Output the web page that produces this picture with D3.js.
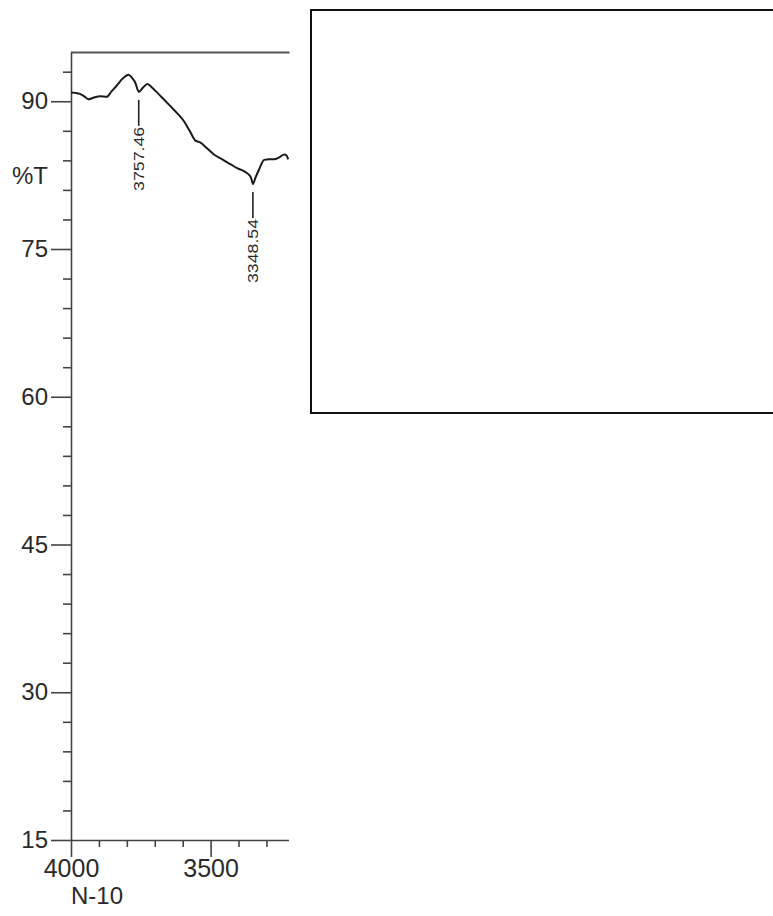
<!DOCTYPE html>
<html>
<head>
<meta charset="utf-8">
<script src="https://cdn.jsdelivr.net/npm/d3@7"></script>
<style>
  body { margin: 0; background: #fff; }
  text { font-family: "Liberation Sans", Arial, sans-serif; fill: #2a2a2a; }
</style>
</head>
<body>
<svg id="chart" width="773" height="916"></svg>
<script>
// Spectrum trace (wavenumber, %T)
const wavenumbers = [4000, 3985, 3968, 3950, 3938, 3920, 3896, 3872, 3855, 3836, 3815, 3794,
  3782, 3770, 3757, 3742, 3726, 3710, 3692, 3668, 3644, 3620, 3596, 3575, 3554, 3536, 3512,
  3488, 3458, 3428, 3405, 3380, 3365, 3356, 3348, 3340, 3326, 3308, 3290, 3272, 3254, 3236,
  3228, 3222];
const transmittance = [90.88, 90.85, 90.75, 90.45, 90.2, 90.35, 90.5, 90.45, 91.0, 91.6, 92.3, 92.7,
  92.4, 91.9, 90.95, 91.4, 91.75, 91.4, 90.9, 90.2, 89.5, 88.8, 88.0, 87.0, 86.0, 85.8, 85.2,
  84.6, 84.1, 83.6, 83.2, 82.9, 82.6, 82.3, 81.6, 82.2, 83.1, 84.05, 84.1, 84.1, 84.3, 84.6,
  84.5, 84.1];

// Labelled peaks
const peakLabels = [3757.46, 3348.54];
const peakValues = [90.95, 81.6];

// Tick values
const yMajorTicks = [90, 75, 60, 45, 30, 15];
const yMinorTicks = d3.range(18, 95, 3).filter(d => d % 15 !== 0);
const xMajorTicks = [4000, 3500];
const xMinorTicks = [3900, 3800, 3700, 3600, 3400, 3300];
const sampleName = "N-10";

const plotLeft = 71, plotRight = 288.5, plotTop = 52, plotBottom = 840;

const x = d3.scaleLinear()
    .domain([4000, 3221])
    .range([plotLeft, plotRight]);

const y = d3.scaleLinear()
    .domain([15, 95])
    .range([plotBottom, plotTop]);

const svg = d3.select("#chart");

// Empty panel on the right
svg.append("rect")
    .attr("x", 311).attr("y", 10)
    .attr("width", 480).attr("height", 403)
    .attr("fill", "#fff")
    .attr("stroke", "#111")
    .attr("stroke-width", 2);

// Frame top line
svg.append("line")
    .attr("x1", plotLeft).attr("x2", plotRight + 1)
    .attr("y1", plotTop + 0.5).attr("y2", plotTop + 0.5)
    .attr("stroke", "#555")
    .attr("stroke-width", 2);

// Y axis: minor then major ticks
svg.append("g")
    .attr("transform", `translate(${plotLeft},0)`)
    .call(d3.axisLeft(y).tickValues(yMinorTicks).tickSize(8).tickFormat(""))
    .call(g => g.select(".domain").remove());

svg.append("g")
    .attr("class", "y-axis")
    .attr("transform", `translate(${plotLeft},0)`)
    .call(d3.axisLeft(y).tickValues(yMajorTicks).tickSize(20).tickSizeOuter(0).tickPadding(3))
    .call(g => g.selectAll("text").attr("font-size", 24).attr("fill", "#2a2a2a").attr("font-family", null));

// X axis: minor then major ticks
svg.append("g")
    .attr("transform", `translate(0,${plotBottom})`)
    .call(d3.axisBottom(x).tickValues(xMinorTicks).tickSize(7).tickFormat(""))
    .call(g => g.select(".domain").remove());

svg.append("g")
    .attr("class", "x-axis")
    .attr("transform", `translate(0,${plotBottom})`)
    .call(d3.axisBottom(x).tickValues(xMajorTicks).tickSize(17).tickSizeOuter(0).tickPadding(2)
        .tickFormat(d3.format("d")))
    .call(g => g.selectAll("text").attr("font-size", 25).attr("fill", "#2a2a2a").attr("font-family", null));

svg.selectAll(".domain, .tick line")
    .attr("stroke", "#444")
    .attr("stroke-width", 1.6);

// Axis titles
svg.append("text")
    .attr("x", 12).attr("y", 176)
    .attr("dy", "0.35em")
    .attr("font-size", 24)
    .text("%T");

svg.append("text")
    .attr("x", 71).attr("y", 904)
    .attr("font-size", 24)
    .text(sampleName);

// Spectrum line
const line = d3.line()
    .x((d, i) => x(wavenumbers[i]))
    .y(d => y(d))
    .curve(d3.curveMonotoneX);

svg.append("path")
    .datum(transmittance)
    .attr("fill", "none")
    .attr("stroke", "#1a1a1a")
    .attr("stroke-width", 2)
    .attr("d", line);

// Peak markers with rotated labels
peakLabels.forEach((p, i) => {
    const px = x(p);
    const y0 = y(peakValues[i]) + 8;
    const y1 = y0 + 26;
    svg.append("line")
        .attr("x1", px).attr("x2", px)
        .attr("y1", y0).attr("y2", y1)
        .attr("stroke", "#222")
        .attr("stroke-width", 1.6);
    svg.append("text")
        .attr("transform", `translate(${px + 5},${y1 + 1}) rotate(-90)`)
        .attr("text-anchor", "end")
        .attr("font-size", 15)
        .attr("textLength", 64)
        .attr("lengthAdjust", "spacingAndGlyphs")
        .text(d3.format(".2f")(p));
});
</script>
</body>
</html>
